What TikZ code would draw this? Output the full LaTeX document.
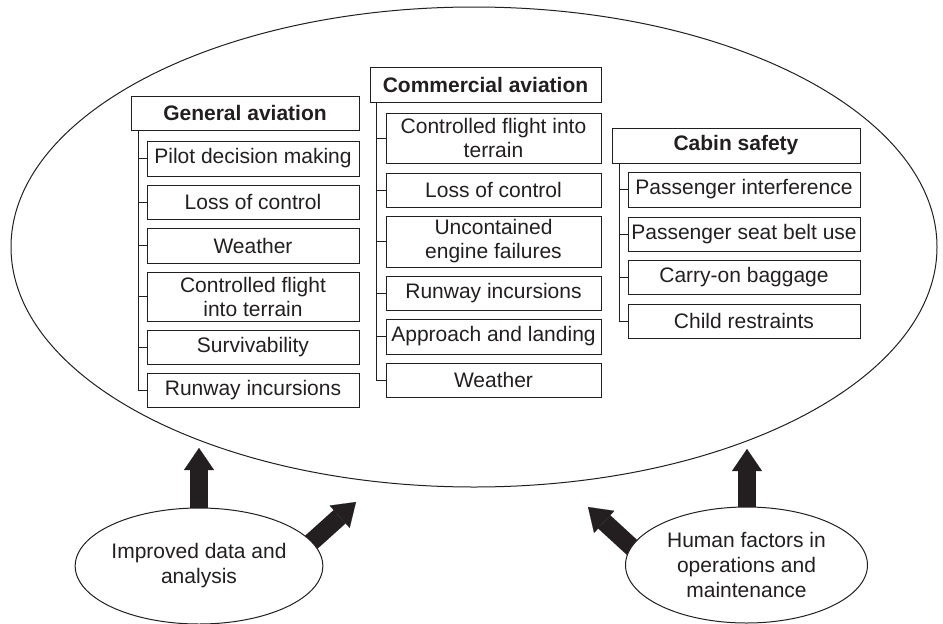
\documentclass[tikz,border=0pt]{standalone}
\usepackage{fontspec}
\setmainfont{Liberation Sans}
\usetikzlibrary{shapes.geometric,arrows.meta}
\definecolor{ink}{HTML}{231F20}
\tikzset{
  boxbase/.style={draw=ink, line width=1pt, inner sep=0pt, align=center, text=ink,
    font=\fontsize{21}{24}\selectfont},
  hdr/.style={boxbase, font=\bfseries\fontsize{21}{24}\selectfont},
  itm/.style={boxbase},
  tick/.style={draw=ink, line width=1pt},
  fat/.style={draw=ink, line width=18pt, -{Triangle[width=30pt,length=22pt,line width=0.1pt]}},
  oval/.style={draw=ink, ellipse, line width=1pt, fill=white, inner sep=0pt, align=center, text=ink,
    font=\fontsize{21}{25}\selectfont, minimum width=242pt, minimum height=116pt}
}
\begin{document}
\begin{tikzpicture}[x=1pt,y=-1pt]
\useasboundingbox (0,0) rectangle (943,624);

% big ellipse
\node[draw=ink, ellipse, line width=1pt, minimum width=926pt, minimum height=480pt, inner sep=0pt] (big) at (474,247) {};

% General aviation
\node[hdr, minimum width=228pt, minimum height=34pt] (gah) at (245,113) {General aviation};
\node[itm, minimum width=212pt, minimum height=35pt] (ga1) at (253,158.5) {Pilot decision making};
\node[itm, minimum width=212pt, minimum height=34pt] (ga2) at (253,202) {Loss of control};
\node[itm, minimum width=212pt, minimum height=35pt] (ga3) at (253,245.5) {Weather};
\node[itm, minimum width=212pt, minimum height=49pt] (ga4) at (253,296.5) {Controlled flight\\into terrain};
\node[itm, minimum width=212pt, minimum height=34pt] (ga5) at (253,347) {Survivability};
\node[itm, minimum width=212pt, minimum height=34pt] (ga6) at (253,390) {Runway incursions};
\coordinate (gat) at (138,130);
\draw[tick] (gat) |- (ga6.west);
\foreach \n in {ga1,ga2,ga3,ga4,ga5} \draw[tick] (\n.west -| gat) -- (\n.west);

% Commercial aviation
\node[hdr, minimum width=231pt, minimum height=35pt] (cah) at (485.5,84.5) {Commercial aviation};
\node[itm, minimum width=215pt, minimum height=50pt] (ca1) at (493.5,138) {Controlled flight into\\terrain};
\node[itm, minimum width=215pt, minimum height=34pt] (ca2) at (493.5,190) {Loss of control};
\node[itm, minimum width=215pt, minimum height=51pt] (ca3) at (493.5,241.5) {Uncontained\\engine failures};
\node[itm, minimum width=215pt, minimum height=34pt] (ca4) at (493.5,293) {Runway incursions};
\node[itm, minimum width=215pt, minimum height=35pt] (ca5) at (493.5,336.5) {Approach and landing};
\node[itm, minimum width=215pt, minimum height=34pt] (ca6) at (493.5,380) {Weather};
\coordinate (cat) at (376,102);
\draw[tick] (cat) |- (ca6.west);
\foreach \n in {ca1,ca2,ca3,ca4,ca5} \draw[tick] (\n.west -| cat) -- (\n.west);

% Cabin safety
\node[hdr, minimum width=248pt, minimum height=35pt] (csh) at (736,145.5) {Cabin safety};
\node[itm, minimum width=232pt, minimum height=35pt] (cs1) at (744,189.5) {Passenger interference};
\node[itm, minimum width=232pt, minimum height=34pt] (cs2) at (744,234) {Passenger seat belt use};
\node[itm, minimum width=232pt, minimum height=34pt] (cs3) at (744,277) {Carry-on baggage};
\node[itm, minimum width=232pt, minimum height=34pt] (cs4) at (744,321) {Child restraints};
\coordinate (cst) at (619,163);
\draw[tick] (cst) |- (cs4.west);
\foreach \n in {cs1,cs2,cs3} \draw[tick] (\n.west -| cst) -- (\n.west);

% arrow tips and tails
\coordinate (t1) at (199,448);
\coordinate (t2) at (356,502);
\coordinate (t3) at (588,507);
\coordinate (t4) at (747,449);
\coordinate (s1) at (199,520);
\coordinate (s2) at (306,547);
\coordinate (s3) at (637,552);
\coordinate (s4) at (747,520);

% arrows (drawn before the small ellipses, which cover their tails)
\draw[fat] (s1) -- (t1);
\draw[fat] (s2) -- (t2);
\draw[fat] (s3) -- (t3);
\draw[fat] (s4) -- (t4);

% small ellipses
\node[oval] (e1) at (199,566) {Improved data and\\analysis};
\node[oval] (e2) at (746.5,565) {Human factors in\\operations and\\maintenance};
\end{tikzpicture}
\end{document}
